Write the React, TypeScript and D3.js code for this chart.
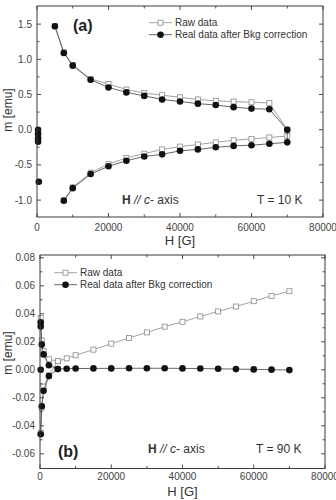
import * as d3 from 'd3';

const W = 336;
const H = 500;

// x ticks shared by both panels
const xMajor = [0, 20000, 40000, 60000, 80000];
const xMinor = [10000, 30000, 50000, 70000];

// panel (a), T = 10 K
const upperFieldA = [5000, 7500, 10000, 15000, 20000, 25000, 30000, 35000, 40000, 45000, 50000, 55000, 60000, 65000, 70000];
const rawUpperA = [1.47, 1.1, 0.92, 0.72, 0.65, 0.57, 0.52, 0.49, 0.46, 0.43, 0.41, 0.4, 0.39, 0.38, 0.0];
const realUpperA = [1.47, 1.09, 0.91, 0.71, 0.6, 0.53, 0.48, 0.43, 0.4, 0.37, 0.35, 0.32, 0.3, 0.29, 0.0];
const lowerFieldA = [70000, 65000, 60000, 55000, 50000, 45000, 40000, 35000, 30000, 25000, 20000, 15000, 10000, 7500];
const rawLowerA = [-0.09, -0.11, -0.13, -0.15, -0.18, -0.21, -0.24, -0.28, -0.34, -0.4, -0.49, -0.61, -0.82, -1.0];
const realLowerA = [-0.18, -0.2, -0.22, -0.23, -0.25, -0.28, -0.3, -0.35, -0.38, -0.44, -0.52, -0.63, -0.83, -1.01];
const lowFieldA = [300, 300, 300, 300, 500];
const realLowA = [0.0, -0.06, -0.12, -0.17, -0.74];
const yMajorA = [-1.0, -0.5, 0.0, 0.5, 1.0, 1.5];
const yMinorA = [-0.75, -0.25, 0.25, 0.75, 1.25];

// panel (b), T = 90 K
const fieldB = [5000, 7500, 10000, 15000, 20000, 25000, 30000, 35000, 40000, 45000, 50000, 55000, 60000, 65000, 70000];
const rawB = [0.0062, 0.0082, 0.0104, 0.0144, 0.0187, 0.0227, 0.0267, 0.0308, 0.0343, 0.0381, 0.0417, 0.0452, 0.049, 0.0528, 0.0561];
const realB = [0.0006, 0.0008, 0.0009, 0.001, 0.001, 0.0011, 0.0011, 0.0011, 0.001, 0.0009, 0.0007, 0.0005, 0.0003, 0.0001, -0.0002];
const lowFieldB = [200, 500, 1000, 2500];
const rawLowUpB = [0.037, 0.021, 0.0135, 0.0075];
const rawLowDownB = [-0.045, -0.027, -0.012, -0.004];
const realLowUpB = [0.034, 0.018, 0.011, 0.0033];
const realLowDownB = [-0.046, -0.026, -0.015, -0.0045];
const strayFieldB = [200, 200];
const strayRealB = [0.031, 0.0];
const yMajorB = [-0.06, -0.04, -0.02, 0.0, 0.02, 0.04, 0.06, 0.08];
const yMinorB = [-0.05, -0.03, -0.01, 0.01, 0.03, 0.05, 0.07];

const FONT = '"Liberation Sans", Arial, sans-serif';
const AXIS = '#3a3a3a';
const RAW = '#8a8a8a';
const REAL = '#555';

type Pts = [number, number][];
const zip = (xs: number[], ys: number[]): Pts => xs.map((x, i) => [x, ys[i]]);

interface PanelProps {
  left: number; right: number; top: number; bottom: number;
  yDomain: [number, number];
  yMajor: number[]; yMinor: number[]; fmt: string;
  raw: Pts[]; real: Pts[]; realStray: Pts;
  tag: string; tagX: number; tagY: number;
  noteY: number; axisNoteX: number; tempX: number; temp: string;
  legendX: number; legendY: number;
  yLabelY: number; xLabelY: number; tickLabelY: number;
}

function Panel(p: PanelProps) {
  const x = d3.scaleLinear().domain([0, 80000]).range([p.left, p.right]);
  const y = d3.scaleLinear().domain(p.yDomain).range([p.bottom, p.top]);
  const line = d3.line<[number, number]>().x(d => x(d[0])).y(d => y(d[1]));
  const f = d3.format(p.fmt);
  const sq = 5;

  return (
    <g fontFamily={FONT}>
      {/* data */}
      {p.raw.map((s, i) => (
        <path key={'rl' + i} d={line(s) || ''} fill="none" stroke={RAW} strokeWidth={0.8} />
      ))}
      {p.raw.flat().map((d, i) => (
        <rect key={'rs' + i} x={x(d[0]) - sq / 2} y={y(d[1]) - sq / 2} width={sq} height={sq}
          fill="#fff" stroke={RAW} strokeWidth={0.8} />
      ))}
      {p.real.map((s, i) => (
        <path key={'fl' + i} d={line(s) || ''} fill="none" stroke={REAL} strokeWidth={0.9} />
      ))}
      {p.real.flat().concat(p.realStray).map((d, i) => (
        <circle key={'fc' + i} cx={x(d[0])} cy={y(d[1])} r={3.3} fill="#111" />
      ))}

      {/* frame */}
      <rect x={p.left} y={p.top} width={p.right - p.left} height={p.bottom - p.top}
        fill="none" stroke={AXIS} strokeWidth={1} />

      {/* x ticks, inside, bottom and top */}
      {xMajor.concat(xMinor).map((v, i) => {
        const len = xMajor.includes(v) ? 4 : 2.5;
        return (
          <g key={'xt' + i} stroke={AXIS} strokeWidth={0.9}>
            <line x1={x(v)} x2={x(v)} y1={p.bottom} y2={p.bottom - len} />
            <line x1={x(v)} x2={x(v)} y1={p.top} y2={p.top + len} />
          </g>
        );
      })}
      {xMajor.map(v => (
        <text key={'xl' + v} x={x(v)} y={p.tickLabelY} textAnchor="middle" fontSize={10} fill="#444">
          {v}
        </text>
      ))}

      {/* y ticks, inside, left and right */}
      {p.yMajor.concat(p.yMinor).map((v, i) => {
        const len = p.yMajor.includes(v) ? 4 : 2.5;
        return (
          <g key={'yt' + i} stroke={AXIS} strokeWidth={0.9}>
            <line x1={p.left} x2={p.left + len} y1={y(v)} y2={y(v)} />
            <line x1={p.right} x2={p.right - len} y1={y(v)} y2={y(v)} />
          </g>
        );
      })}
      {p.yMajor.map(v => (
        <text key={'yl' + v} x={p.left - 5} y={y(v) + 3.5} textAnchor="end" fontSize={10} fill="#444">
          {f(v).replace('−', '-')}
        </text>
      ))}

      {/* axis titles */}
      <text x={(p.left + p.right) / 2} y={p.xLabelY} textAnchor="middle" fontSize={13} fill="#333">H [G]</text>
      <text transform={`translate(12,${p.yLabelY}) rotate(-90)`} textAnchor="middle" fontSize={12} fill="#333">
        m [emu]
      </text>

      {/* annotations */}
      <text x={p.tagX} y={p.tagY} fontSize={16} fontWeight="bold" fill="#222">{p.tag}</text>
      <text x={p.axisNoteX} y={p.noteY} fontSize={12} fill="#333">
        <tspan fontWeight="bold">H</tspan>
        <tspan fontStyle="italic"> // c</tspan>
        <tspan>- axis</tspan>
      </text>
      <text x={p.tempX} y={p.noteY} fontSize={12} fill="#333">{p.temp}</text>

      {/* legend */}
      <g fontSize={10} fill="#333">
        <line x1={p.legendX} x2={p.legendX + 23} y1={p.legendY} y2={p.legendY} stroke={RAW} strokeWidth={0.8} />
        <rect x={p.legendX + 11.5 - sq / 2} y={p.legendY - sq / 2} width={sq} height={sq}
          fill="#fff" stroke={RAW} strokeWidth={0.8} />
        <text x={p.legendX + 26} y={p.legendY + 3.5}>Raw data</text>
        <line x1={p.legendX} x2={p.legendX + 23} y1={p.legendY + 12} y2={p.legendY + 12} stroke={REAL} strokeWidth={0.9} />
        <circle cx={p.legendX + 11.5} cy={p.legendY + 12} r={3.3} fill="#111" />
        <text x={p.legendX + 26} y={p.legendY + 15.5}>Real data after Bkg correction</text>
      </g>
    </g>
  );
}

export default function App() {
  return (
    <svg width={W} height={H} viewBox={`0 0 ${W} ${H}`}
      style={{ position: 'absolute', left: 0, top: 0, background: '#fff' }}>
      <Panel
        left={37} right={323} top={6} bottom={217}
        yDomain={[-1.24, 1.757]}
        yMajor={yMajorA} yMinor={yMinorA} fmt=".1f"
        raw={[zip(upperFieldA, rawUpperA).concat(zip(lowerFieldA, rawLowerA))]}
        real={[zip(upperFieldA, realUpperA).concat(zip(lowerFieldA, realLowerA)), zip(lowFieldA.slice(0, 4), realLowA.slice(0, 4))]}
        realStray={zip(lowFieldA.slice(4), realLowA.slice(4))}
        tag="(a)" tagX={73} tagY={31}
        noteY={204} axisNoteX={122} tempX={257} temp="T = 10 K"
        legendX={149} legendY={22.7}
        yLabelY={110} xLabelY={245} tickLabelY={231}
      />
      <Panel
        left={40} right={325} top={255} bottom={468.5}
        yDomain={[-0.0705, 0.082]}
        yMajor={yMajorB} yMinor={yMinorB} fmt=".2f"
        raw={[
          zip(lowFieldB, rawLowUpB).concat(zip(fieldB, rawB)),
          zip(lowFieldB, rawLowDownB).concat(zip(fieldB.slice(0, 1), rawB.slice(0, 1))),
        ]}
        real={[
          zip(lowFieldB, realLowUpB).concat(zip(fieldB, realB)),
          zip(lowFieldB, realLowDownB).concat(zip(fieldB.slice(0, 1), realB.slice(0, 1))),
        ]}
        realStray={zip(strayFieldB, strayRealB)}
        tag="(b)" tagX={58} tagY={457}
        noteY={453} axisNoteX={148} tempX={256} temp="T = 90 K"
        legendX={54} legendY={272.7}
        yLabelY={353} xLabelY={496} tickLabelY={480}
      />
    </svg>
  );
}
